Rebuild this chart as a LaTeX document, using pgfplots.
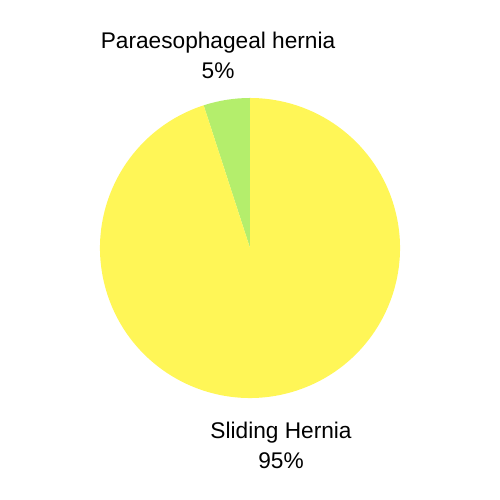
\documentclass[border=0pt]{standalone}
\usepackage{pgfplots}
\pgfplotsset{compat=1.18}
\usepackage{fontspec}
\setmainfont{Liberation Sans}
\definecolor{pieyellow}{HTML}{FFF657}
\definecolor{piegreen}{HTML}{B4EE6C}
\begin{document}
\begin{tikzpicture}
\begin{axis}[
    x=3cm, y=3cm,
    xmin=-1.6667, xmax=1.6667,
    ymin=-1.68, ymax=1.6533,
    hide axis,
    clip=false,
  ]
% slices: value/colour, drawn counterclockwise from the top
\def\cumul{90}
\foreach \v/\c in {5/piegreen, 95/pieyellow}{
  \pgfmathsetmacro{\endang}{\cumul+3.6*\v}
  \edef\temp{\noexpand\fill[\c] (axis cs:0,0) -- ++(\cumul:3cm) arc[start angle=\cumul, end angle=\endang, radius=3cm] -- cycle;}
  \temp
  \xdef\cumul{\endang}
}
\path (axis cs:-1.6667,-1.68) rectangle (axis cs:1.6667,1.6533);
\node[font=\fontsize{12.9}{15.5}\selectfont, align=center] at (axis cs:-0.213,1.283)
  {Paraesophageal hernia\\[1.5pt]5\%};
\node[font=\fontsize{12.9}{15.5}\selectfont, align=center] at (axis cs:0.207,-1.317)
  {Sliding Hernia\\[1.5pt]95\%};
\end{axis}
\end{tikzpicture}
\end{document}
